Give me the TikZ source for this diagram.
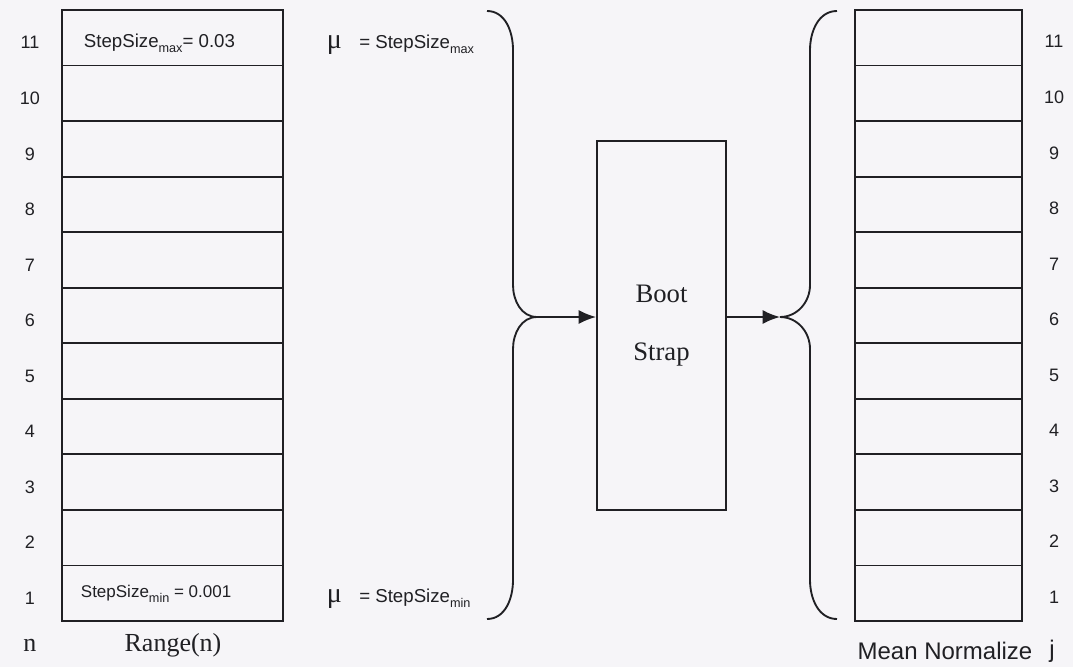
\documentclass[tikz,border=0pt]{standalone}
\usepackage{fontspec}
\setmainfont{Liberation Serif}
\setsansfont{Liberation Sans}
\usetikzlibrary{arrows.meta,positioning}

\definecolor{paper}{RGB}{246,245,248}
\definecolor{ink}{RGB}{32,32,36}

% small lowered index as used in StepSize_max
\newcommand{\lowsub}[1]{\raisebox{-0.5ex}{\fontsize{9.5}{10}\selectfont #1}}

\begin{document}
\begin{tikzpicture}[x=0.75pt,y=-0.75pt,>={Latex[length=13pt,width=10.5pt]},
  line width=1.4pt,draw=ink,
  cell/.style={draw=ink,minimum width=#1,minimum height=41.66pt,inner sep=0pt},
  num/.style={font=\sffamily\fontsize{13.5}{14}\selectfont,text=ink},
  val/.style={font=\sffamily\fontsize{#1}{15}\selectfont,text=ink,anchor=west,inner sep=0pt},
  caption/.style={font=\fontsize{19.5}{22}\selectfont,text=ink}]
  \fill[paper] (0,0) rectangle (1073,667);
  \useasboundingbox (0,0) rectangle (1073,667);

  % the two stacks of 11 cells with their row numbers
  \foreach \i in {1,...,11} {
    \node[cell=165.75pt] (l\i) at (172.5,{621-(\i-0.5)*55.55}) {};
    \node[cell=125.25pt] (r\i) at (938.5,{621-(\i-0.5)*55.55}) {};
    \node[num] (ln\i) at (30,{626-(\i-0.5)*55.55}) {\i};
    \node[num] (rn\i) at (1054,{625-(\i-0.5)*55.55}) {\i};
  }
  \node[val=14] (smax) at (83,43) {StepSize\lowsub{max}= 0.03};
  \node[val=12.75] (smin) at (80,594) {StepSize\lowsub{min} = 0.001};

  \node[val=14] (mumax) at (326,45) {{\rmfamily\fontsize{21}{21}\selectfont μ}\hspace{13pt}= StepSize\lowsub{max}};
  \node[val=14] (mumin) at (326,599) {{\rmfamily\fontsize{21}{21}\selectfont μ}\hspace{13pt}= StepSize\lowsub{min}};

  \node[cell=96.75pt,minimum height=276.75pt,align=center,
        font=\fontsize{20}{24}\selectfont,text=ink] (boot) at (661.5,325.5) {Boot\\[20pt]Strap};

  % braces
  \coordinate (ltip) at (537,317);
  \coordinate (rtip) at (780,317);
  \draw (487,11) to[out=0,in=90] (513,50) -- (513,285) to[out=270,in=180] (ltip)
        to[out=180,in=90] (513,349) -- (513,580) to[out=270,in=0] (487,619);
  \draw (837,11) to[out=180,in=90] (810,50) -- (810,285) to[out=270,in=0] (rtip)
        to[out=0,in=90] (810,349) -- (810,580) to[out=270,in=180] (837,619);

  \draw[->] (ltip) -- (ltip -| boot.west);
  \draw[->] (boot.east |- rtip) -- (rtip);

  \node[caption] (n) at (30,645) {n};
  \node[caption] (range) at (173,645) {Range(n)};
  \node[caption,font=\sffamily\fontsize{18}{20}\selectfont] (mean) at (945,651) {Mean Normalize};
  \node[caption,font=\sffamily\fontsize{18}{20}\selectfont] (j) at (1052,651) {j};
\end{tikzpicture}
\end{document}
